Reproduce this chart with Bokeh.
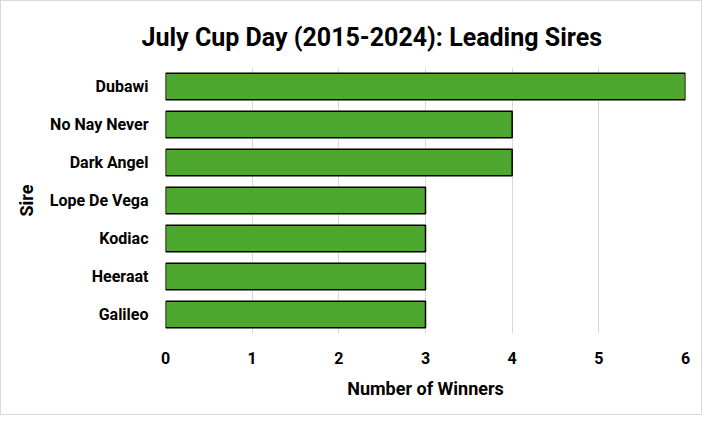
from bokeh.plotting import figure
from bokeh.models import SingleIntervalTicker, Range1d
from bokeh.embed import file_html
from bokeh.resources import INLINE

sires = ["Dubawi", "No Nay Never", "Dark Angel", "Lope De Vega", "Kodiac", "Heeraat", "Galileo"]
winners = [6, 4, 4, 3, 3, 3, 3]
title_text = "July Cup Day (2015-2024): Leading Sires"
x_label = "Number of Winners"
y_label = "Sire"

FONT = "Roboto"
cats = list(reversed(sires))
vals = list(reversed(winners))

p = figure(width=702, height=415, y_range=cats, x_range=Range1d(0, 6),
           output_backend="svg", toolbar_location=None,
           min_border_left=164, min_border_right=18, min_border_top=66, min_border_bottom=83)
p.styles = {"border": "1px solid #d9d9d9"}

p.hbar(y=cats, right=vals, left=0, height=0.7, fill_color="#4EA72E",
       line_color="black", line_width=1.5)

p.title.text = title_text
p.title.align = "left"
p.title.offset = -24
p.title.standoff = 31
p.title.text_font = FONT
p.title.text_font_size = "25px"
p.title.text_font_style = "bold"
p.title.text_color = "black"

p.xaxis.ticker = SingleIntervalTicker(interval=1)
p.xaxis.axis_label = x_label
p.yaxis.axis_label = y_label
for ax in (p.xaxis[0], p.yaxis[0]):
    ax.axis_line_color = None
    ax.major_tick_line_color = None
    ax.minor_tick_line_color = None
    ax.major_label_text_font = FONT
    ax.major_label_text_font_size = "16px"
    ax.major_label_text_font_style = "bold"
    ax.major_label_text_color = "black"
    ax.axis_label_text_font = FONT
    ax.axis_label_text_font_size = "18px"
    ax.axis_label_text_font_style = "bold"
    ax.axis_label_text_color = "black"

p.xaxis.major_label_standoff = 12
p.xaxis.axis_label_standoff = 11
p.yaxis.major_label_standoff = 11
p.yaxis.axis_label_standoff = 10

p.xgrid.grid_line_color = "#d9d9d9"
p.ygrid.grid_line_color = None
p.outline_line_color = None

open("out.html", "w").write(file_html(p, INLINE))
